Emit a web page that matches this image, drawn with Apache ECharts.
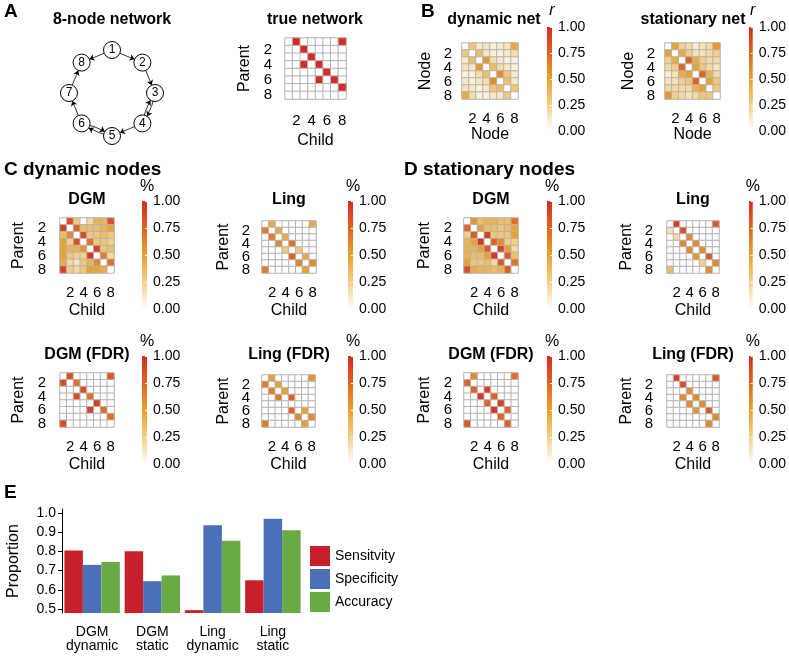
<!DOCTYPE html>
<html><head><meta charset="utf-8">
<script src="https://cdn.jsdelivr.net/npm/echarts@6/dist/echarts.min.js"></script>
<style>html,body{margin:0;padding:0;background:#fff}#c{width:789px;height:657px}</style>
</head><body><div id="c"></div>
<script>
// ---------- DATA ----------
const nodeNames = ['1','2','3','4','5','6','7','8'];
const edgeFrom = [1,1,2,3,4,4,5,6,6,7];
const edgeTo   = [2,8,3,4,3,5,6,5,7,8];

const dynamicNet = [
  [0,.30,.12,.15,.08,.12,.15,.45],
  [.30,0,.35,.12,.08,.08,.12,.18],
  [.12,.35,0,.55,.18,.12,.08,.08],
  [.15,.12,.55,0,.35,.18,.12,.08],
  [.08,.08,.18,.35,0,.60,.30,.12],
  [.12,.08,.12,.18,.60,0,.35,.12],
  [.15,.12,.08,.12,.30,.35,0,.30],
  [.45,.18,.08,.08,.12,.12,.30,0]
];
const stationaryNet = [
  [0,.50,.25,.20,.10,.15,.20,.55],
  [.50,0,.45,.25,.15,.15,.20,.25],
  [.25,.45,0,.75,.45,.25,.20,.20],
  [.20,.25,.75,0,.50,.30,.20,.15],
  [.10,.15,.45,.50,0,.75,.40,.20],
  [.15,.15,.25,.30,.75,0,.50,.30],
  [.20,.20,.20,.20,.40,.50,0,.30],
  [.55,.25,.20,.15,.20,.30,.30,0]
];
const dynDGM = [
  [0,.85,.30,0,.20,.40,.40,.85],
  [.90,0,.75,.35,.35,.35,.40,.50],
  [.35,.60,0,.85,.30,.30,.35,.30],
  [.50,.25,.85,0,.70,.30,.30,.25],
  [.50,.40,.40,.55,0,.90,.30,.35],
  [.50,.30,.25,.25,.95,0,.65,.20],
  [.45,.20,.15,.30,.40,.60,0,.70],
  [.90,.25,.20,.30,.50,.50,.45,0]
];
const dynLing = [
  [0,.45,0,0,0,0,0,.45],
  [.65,0,.45,0,0,0,0,0],
  [0,.65,0,.45,0,0,0,0],
  [0,0,.60,0,.70,0,0,0],
  [0,0,0,.30,0,.30,0,0],
  [0,0,0,0,.75,0,.45,0],
  [0,0,0,0,0,.60,0,.60],
  [.65,0,0,0,0,0,.50,0]
];
const dynDGMfdr = [
  [0,.85,0,0,0,0,0,.80],
  [.85,0,.70,0,0,0,0,0],
  [0,0,0,.85,0,0,0,0],
  [0,0,.85,0,.70,0,0,0],
  [0,0,0,0,0,.90,0,0],
  [0,0,0,0,.90,0,.70,0],
  [0,0,0,0,0,0,0,.70],
  [.85,0,0,0,0,0,0,0]
];
const dynLingfdr = [
  [0,.50,0,0,0,0,0,.55],
  [.65,0,.50,0,0,0,0,0],
  [0,.65,0,.50,0,0,0,0],
  [0,0,.65,0,.75,0,0,0],
  [0,0,0,0,0,0,0,0],
  [0,0,0,0,.75,0,.50,0],
  [0,0,0,0,0,.60,0,.60],
  [.65,0,0,0,0,0,.50,0]
];
const statDGM = [
  [0,.55,.35,.40,.40,.35,.35,.70],
  [.75,0,.50,.35,.35,.30,.35,.50],
  [.25,.80,0,.90,.30,.30,.30,.50],
  [.40,.50,.95,0,.75,.60,.25,.25],
  [.40,.40,.50,.80,0,.90,.50,.20],
  [.40,.35,.35,.50,.95,0,.80,.35],
  [.50,.30,.30,.35,.20,.80,0,.70],
  [.85,.45,.40,.40,.35,.40,.80,0]
];
const statLing = [
  [0,.90,0,0,0,0,0,.80],
  [.15,0,.85,0,0,0,0,0],
  [0,.20,0,.60,0,0,0,0],
  [0,0,.60,0,.60,0,0,0],
  [0,0,0,.60,0,.60,0,0],
  [0,0,0,0,.55,0,.80,0],
  [0,0,0,0,0,.25,0,.60],
  [.35,0,0,0,0,0,.60,0]
];
const statDGMfdr = [
  [0,.60,0,0,0,0,0,.70],
  [.75,0,0,0,0,0,0,0],
  [0,.75,0,.90,0,0,0,0],
  [0,0,.95,0,.75,0,0,0],
  [0,0,0,.75,0,.90,0,0],
  [0,0,0,0,.95,0,.75,0],
  [0,0,0,0,0,.75,0,0],
  [.80,0,0,0,0,0,.75,0]
];
const statLingfdr = [
  [0,.90,0,0,0,0,0,.80],
  [0,0,.85,0,0,0,0,0],
  [0,0,0,.60,0,0,0,0],
  [0,0,.60,0,.60,0,0,0],
  [0,0,0,.60,0,.60,0,0],
  [0,0,0,0,.55,0,.80,0],
  [0,0,0,0,0,0,0,.60],
  [0,0,0,0,0,0,.60,0]
];

const colorbarTicks = [0, 0.25, 0.5, 0.75, 1];
const groupLabels = ['DGM\ndynamic','DGM\nstatic','Ling\ndynamic','Ling\nstatic'];
const sensitivity = [0.805, 0.80, 0.495, 0.65];
const specificity = [0.73, 0.645, 0.935, 0.97];
const accuracy    = [0.745, 0.675, 0.855, 0.91];
const proportionTicks = [0.5, 0.6, 0.7, 0.8, 0.9, 1.0];

// ---------- BUILD ----------
const FONT = "'Liberation Sans', Arial, Helvetica, sans-serif";
const heatColors = ['#ffffff','#f3cf88','#e9a12f','#e0641f','#d62a22'];
const trueNet = nodeNames.map(() => nodeNames.map(() => 0));
edgeFrom.forEach((f, k) => { trueNet[f-1][edgeTo[k]-1] = 1; });

const opt = {
  animation: false,
  backgroundColor: '#fff',
  textStyle: { fontFamily: FONT, color: '#000' },
  grid: [], xAxis: [], yAxis: [], series: [], graphic: [],
  polar: [{ center: [112, 93], radius: 43 }],
  angleAxis: [{ polarIndex: 0, type: 'category', data: nodeNames, startAngle: 90, clockwise: true, boundaryGap: false, show: false }],
  radiusAxis: [{ polarIndex: 0, type: 'value', min: 0, max: 1, show: false }]
};
const heatIdx = [];
const evenLabel = (v) => (Number(v) % 2 === 0 ? v : '');

function heat(mat, l, t, w, h, xName, yName, xm, ym, xg, yg) {
  const gi = opt.grid.length;
  opt.grid.push({ left: l, top: t, width: w, height: h });
  opt.xAxis.push({ gridIndex: gi, type: 'category', data: nodeNames,
    axisLine: { show: false }, axisTick: { show: false }, splitLine: { show: false },
    axisLabel: { interval: 0, formatter: evenLabel, showMinLabel: true, showMaxLabel: true, margin: xm, fontSize: 15, color: '#000' },
    name: xName, nameLocation: 'middle', nameGap: xg, nameTextStyle: { fontSize: 16, color: '#000' } });
  opt.yAxis.push({ gridIndex: gi, type: 'category', inverse: true, data: nodeNames,
    axisLine: { show: false }, axisTick: { show: false }, splitLine: { show: false },
    axisLabel: { interval: 0, formatter: evenLabel, showMinLabel: true, showMaxLabel: true, margin: ym, fontSize: 15, color: '#000' },
    name: yName, nameLocation: 'middle', nameGap: yg, nameTextStyle: { fontSize: 16, color: '#000' } });
  const data = [];
  mat.forEach((row, r) => row.forEach((v, c) => data.push([c, r, v])));
  heatIdx.push(opt.series.length);
  opt.series.push({ type: 'heatmap', xAxisIndex: gi, yAxisIndex: gi, data: data, silent: true,
    itemStyle: { borderColor: '#b3b3b3', borderWidth: 1 }, emphasis: { disabled: true } });
}

function cbar(l, t, h, sym, italic) {
  const gi = opt.grid.length;
  opt.grid.push({ left: l, top: t, width: 5, height: h });
  opt.xAxis.push({ gridIndex: gi, type: 'category', data: ['c'], show: false });
  opt.yAxis.push({ gridIndex: gi, type: 'value', min: 0, max: 1, position: 'right', z: 5,
    axisLine: { show: false }, splitLine: { show: false },
    axisTick: { show: true, inside: true, length: 2, customValues: colorbarTicks, lineStyle: { color: '#fff', width: 1 } },
    axisLabel: { customValues: colorbarTicks, formatter: v => v.toFixed(2), fontSize: 14, color: '#000', margin: 6 },
    name: sym, nameLocation: 'end', nameGap: italic ? 8 : 6,
    nameTextStyle: { fontSize: 16, color: '#000', fontStyle: italic ? 'italic' : 'normal', align: 'center' } });
  opt.series.push({ type: 'bar', xAxisIndex: gi, yAxisIndex: gi, data: [1], barWidth: '100%', silent: true,
    itemStyle: { color: new echarts.graphic.LinearGradient(0, 0, 0, 1, [
      { offset: 0, color: heatColors[4] }, { offset: 0.25, color: heatColors[3] },
      { offset: 0.5, color: heatColors[2] }, { offset: 0.75, color: heatColors[1] },
      { offset: 1, color: heatColors[0] }]) } });
}

function txt(s, x, y, size, align, weight) {
  opt.graphic.push({ type: 'text', x: x, y: y, silent: true,
    style: { text: s, font: (weight || 'bold') + ' ' + size + 'px ' + FONT,
      textAlign: align, textVerticalAlign: 'middle', align: align, verticalAlign: 'middle', fill: '#000' } });
}

// Panel A: network (polar layout)
opt.series.push({
  type: 'graph', coordinateSystem: 'polar', polarIndex: 0, silent: true,
  symbol: 'circle', symbolSize: 17,
  itemStyle: { color: '#fff', borderColor: '#000', borderWidth: 1 },
  label: { show: true, position: 'inside', fontSize: 12, color: '#000' },
  edgeSymbol: ['none', 'arrow'], edgeSymbolSize: [0, 5],
  lineStyle: { color: '#000', width: 0.8, opacity: 1 },
  data: nodeNames.map((n, i) => ({ name: n, value: [1, i] })),
  links: edgeFrom.map((f, k) => {
    const t = edgeTo[k];
    const bi = edgeFrom.some((g, j) => g === t && edgeTo[j] === f);
    return { source: String(f), target: String(t), lineStyle: { curveness: bi ? 0.12 : 0 } };
  })
});

heat(trueNet, 285, 38, 61, 61, 'Child', 'Parent', 14, 13, 34, 32);
heat(dynamicNet, 462, 43, 56, 56, 'Node', 'Node', 12, 10, 26, 28);
heat(stationaryNet, 665, 43, 55, 56, 'Node', 'Node', 12, 10, 26, 28);
heat(dynDGM, 60, 218, 54, 55, 'Child', 'Parent', 12, 14, 30, 33);
heat(dynLing, 262, 221, 54, 52, 'Child', 'Parent', 12, 12, 30, 30);
heat(statDGM, 464, 218, 54, 55, 'Child', 'Parent', 12, 12, 30, 31);
heat(statLing, 667, 221, 52, 52, 'Child', 'Parent', 12, 14, 30, 32);
heat(dynDGMfdr, 60, 373, 54, 54, 'Child', 'Parent', 12, 14, 30, 33);
heat(dynLingfdr, 262, 375, 53, 52, 'Child', 'Parent', 12, 12, 30, 30);
heat(statDGMfdr, 464, 373, 54, 54, 'Child', 'Parent', 12, 12, 30, 31);
heat(statLingfdr, 667, 375, 52, 52, 'Child', 'Parent', 12, 14, 30, 32);

cbar(547, 27, 104, 'r', true);
cbar(749, 27, 104, 'r', true);
cbar(142, 201, 108, '%');
cbar(348, 201, 108, '%');
cbar(547, 201, 108, '%');
cbar(749, 201, 108, '%');
cbar(142, 356, 108, '%');
cbar(348, 356, 108, '%');
cbar(547, 356, 108, '%');
cbar(749, 356, 108, '%');

// Panel E: bar chart
(function () {
  const gi = opt.grid.length;
  opt.grid.push({ left: 62, top: 509, width: 241, height: 104 });
  opt.xAxis.push({ gridIndex: gi, type: 'category', data: groupLabels,
    axisLine: { show: false }, axisTick: { show: false },
    axisLabel: { interval: 0, fontSize: 14, lineHeight: 14, color: '#000', margin: 12 } });
  opt.yAxis.push({ gridIndex: gi, type: 'value', min: 0.48, max: 1.02,
    axisLine: { show: true, lineStyle: { color: '#000', width: 1 } },
    axisTick: { show: true, length: 4, customValues: proportionTicks, lineStyle: { color: '#000' } },
    axisLabel: { customValues: proportionTicks, formatter: v => v.toFixed(1), fontSize: 14, color: '#000', margin: 6 },
    splitLine: { show: false },
    name: 'Proportion', nameLocation: 'middle', nameGap: 40, nameTextStyle: { fontSize: 16, color: '#000' } });
  const mk = (name, data, color) => ({ type: 'bar', name: name, xAxisIndex: gi, yAxisIndex: gi, data: data,
    barGap: '0%', barCategoryGap: '8%', silent: true, itemStyle: { color: color } });
  opt.series.push(mk('Sensitvity', sensitivity, '#c8202a'));
  opt.series.push(mk('Specificity', specificity, '#4b70b7'));
  opt.series.push(mk('Accuracy', accuracy, '#6aaa44'));
})();

opt.legend = { data: ['Sensitvity', 'Specificity', 'Accuracy'], orient: 'vertical', left: 305, top: 541,
  itemWidth: 20, itemHeight: 20, itemGap: 3, icon: 'rect', selectedMode: false,
  textStyle: { fontSize: 14, color: '#000' } };

opt.visualMap = { type: 'continuous', show: false, min: 0, max: 1, seriesIndex: heatIdx,
  inRange: { color: heatColors } };

// Titles & panel letters
txt('A', 4, 12, 19, 'left');
txt('8-node network', 112, 20, 16, 'center');
txt('true network', 315, 20, 16, 'center');
txt('B', 421, 12, 19, 'left');
txt('dynamic net', 494, 20, 16, 'center');
txt('stationary net', 693, 20, 16, 'center');
txt('C dynamic nodes', 4, 170, 19, 'left');
txt('D stationary nodes', 404, 170, 19, 'left');
txt('DGM', 87, 200, 16, 'center');
txt('Ling', 289, 200, 16, 'center');
txt('DGM', 491, 200, 16, 'center');
txt('Ling', 693, 200, 16, 'center');
txt('DGM (FDR)', 87, 355, 16, 'center');
txt('Ling (FDR)', 289, 355, 16, 'center');
txt('DGM (FDR)', 491, 355, 16, 'center');
txt('Ling (FDR)', 693, 355, 16, 'center');
txt('E', 4, 493, 19, 'left');

const chart = echarts.init(document.getElementById('c'), null, { renderer: 'canvas' });
chart.setOption(opt);
</script>
</body></html>
